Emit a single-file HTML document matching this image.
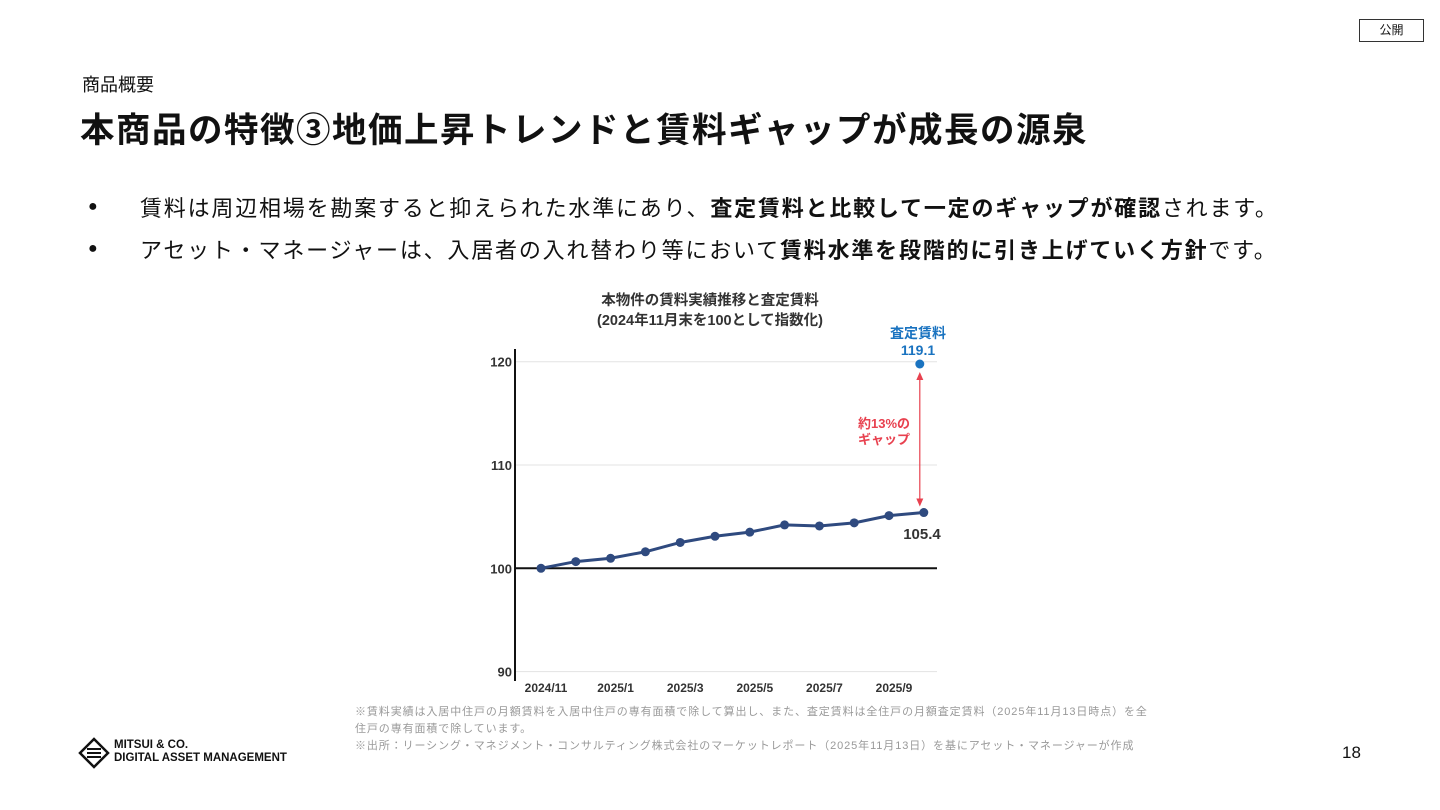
<!DOCTYPE html>
<html><head><meta charset="utf-8">
<style>
body{margin:0;width:1440px;height:810px;background:#fff;font-family:"Liberation Sans","Noto Sans CJK JP",sans-serif;position:relative;overflow:hidden;color:#111}
.abs{position:absolute;white-space:nowrap}
</style></head><body>
<div class="abs" style="left:1359px;top:19px;width:65px;height:23px;border:1.5px solid #333;box-sizing:border-box;font-size:12px;text-align:center;line-height:20px">公開</div>
<div class="abs" style="left:82px;top:71px;font-size:18px">商品概要</div>
<div class="abs" style="left:80px;top:102px;font-size:34.5px;font-weight:bold;letter-spacing:1.5px">本商品の特徴③地価上昇トレンドと賃料ギャップが成長の源泉</div>
<div class="abs" style="left:88px;top:191px;font-size:22px"><span style="font-size:16px">●</span><span style="position:absolute;left:52px;top:0;letter-spacing:1.8px">賃料は周辺相場を勘案すると抑えられた水準にあり、<b>査定賃料と比較して一定のギャップが確認</b>されます。</span></div>
<div class="abs" style="left:88px;top:233px;font-size:22px"><span style="font-size:16px">●</span><span style="position:absolute;left:52px;top:0;letter-spacing:1.8px">アセット・マネージャーは、入居者の入れ替わり等において<b>賃料水準を段階的に引き上げていく方針</b>です。</span></div>
<svg class="abs" style="left:0;top:0" width="1440" height="810" id="chart"></svg>
<div class="abs" style="left:355px;top:704px;font-size:11px;color:#999;line-height:17px;white-space:normal;width:798px;letter-spacing:0.9px">※賃料実績は入居中住戸の月額賃料を入居中住戸の専有面積で除して算出し、また、査定賃料は全住戸の月額査定賃料（2025年11月13日時点）を全住戸の専有面積で除しています。<br>※出所：リーシング・マネジメント・コンサルティング株式会社のマーケットレポート（2025年11月13日）を基にアセット・マネージャーが作成</div>
<div class="abs" style="left:78px;top:737px">
<svg width="32" height="32" style="position:absolute;left:0;top:0"><path d="M16 2 L30 16 L16 30 L2 16 Z" fill="none" stroke="#111" stroke-width="2.5"/><path d="M9 12h14M9 16h14M9 20h14" stroke="#111" stroke-width="2"/></svg>
<div class="abs" style="left:36px;top:2px;font-size:11.5px;font-weight:bold;line-height:13px">MITSUI &amp; CO.<br>DIGITAL ASSET MANAGEMENT</div></div>
<div class="abs" style="left:1342px;top:743px;font-size:17px">18</div>
<script>
const months=["2024/11","2024/12","2025/1","2025/2","2025/3","2025/4","2025/5","2025/6","2025/7","2025/8","2025/9","2025/10"];
const rents=[100,100.65,100.97,101.6,102.5,103.1,103.5,104.2,104.1,104.4,105.1,105.4];
const assessed=[119.1];
const yTicks=[90,100,110,120];
const xLabels=["2024/11","2025/1","2025/3","2025/5","2025/7","2025/9"];
const svg=document.getElementById('chart'),NS="http://www.w3.org/2000/svg";
const X=i=>541+i*34.8, Y=v=>568.3-(v-100)*10.33;
function el(t,a,txt){const e=document.createElementNS(NS,t);for(const k in a)e.setAttribute(k,a[k]);if(txt!==undefined)e.textContent=txt;svg.appendChild(e);return e;}
const F='"Liberation Sans","Noto Sans CJK JP",sans-serif';
let t=el('text',{x:710,y:305,'text-anchor':'middle','font-size':14.5,'font-weight':'bold',fill:'#333','font-family':F},'本物件の賃料実績推移と査定賃料');

t=el('text',{x:710,y:325,'text-anchor':'middle','font-size':14.5,'font-weight':'bold',fill:'#333','font-family':F},'(2024年11月末を100として指数化)');

yTicks.forEach(v=>{
 const g=el('line',{x1:515,x2:937,y1:Y(v),y2:Y(v),stroke:v===100?'#111':'#e3e3e3','stroke-width':v===100?2:1});
 
 const l=el('text',{x:512,y:Y(v)+5,'text-anchor':'end','font-size':13,'font-weight':'bold',fill:'#333','font-family':F},v);
 
});
let ax=el('line',{x1:515,x2:515,y1:349,y2:681,stroke:'#111','stroke-width':2});

xLabels.forEach(m=>{const i=months.indexOf(m);
 const l=el('text',{x:X(i)+5,y:692,'text-anchor':'middle','font-size':12,'font-weight':'bold',fill:'#333','font-family':F},m);
 });
let p=el('polyline',{points:rents.map((v,i)=>X(i)+','+Y(v)).join(' '),fill:'none',stroke:'#2f4a7f','stroke-width':3});

rents.forEach((v,i)=>{const c=el('circle',{cx:X(i),cy:Y(v),r:4.5,fill:'#2f4a7f'});
 });
const last=rents.length-1;
const ay=Y(assessed[0])-7;
let a=el('circle',{cx:X(last)-4,cy:ay,r:4.5,fill:'#1a73c0'});

const ax0=X(last)-4;
let ar=el('line',{x1:ax0,x2:ax0,y1:ay+10,y2:Y(rents[last])-8,stroke:'#e8414f','stroke-width':1.2});

el('path',{d:`M${ax0-3.5} ${ay+16} L${ax0} ${ay+8} L${ax0+3.5} ${ay+16}Z`,fill:'#e8414f'});
el('path',{d:`M${ax0-3.5} ${Y(rents[last])-14} L${ax0} ${Y(rents[last])-6} L${ax0+3.5} ${Y(rents[last])-14}Z`,fill:'#e8414f'});
t=el('text',{x:918,y:338,'text-anchor':'middle','font-size':14,'font-weight':'bold',fill:'#1a73c0','font-family':F},'査定賃料');

t=el('text',{x:918,y:355,'text-anchor':'middle','font-size':14,'font-weight':'bold',fill:'#1a73c0','font-family':F},assessed[0].toFixed(1));

t=el('text',{x:884,y:428,'text-anchor':'middle','font-size':13,'font-weight':'bold',fill:'#e8414f','font-family':F},'約13%の');

el('text',{x:884,y:444,'text-anchor':'middle','font-size':13,'font-weight':'bold',fill:'#e8414f','font-family':F},'ギャップ');
t=el('text',{x:922,y:539,'text-anchor':'middle','font-size':15,'font-weight':'bold',fill:'#333','font-family':F},rents[last].toFixed(1));

</script>
</body></html>
